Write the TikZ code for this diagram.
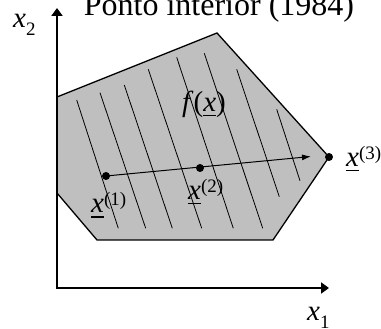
\documentclass[tikz,border=0pt]{standalone}
\usepackage{fontspec}
\setmainfont{Liberation Serif}
\usetikzlibrary{arrows.meta}
\newcommand\ulvar{\setbox0\hbox{\textit{x}}\rlap{\rule[-4.5pt]{\wd0}{1.4pt}}\box0}
\newcommand\supidx[1]{\raisebox{7pt}{\fontsize{19}{20}\selectfont(#1)}}
\newcommand\subidx[1]{\raisebox{-8pt}{\fontsize{19}{20}\selectfont #1}}
\begin{document}
\begin{tikzpicture}[x=1pt,y=-1pt,
  axis/.style={line width=2pt,-{Triangle[length=8pt,width=11pt]}},
  region/.style={fill=black!25,draw=black,line width=1.3pt,line join=miter},
  hatch/.style={line width=0.8pt},
  dot/.style={circle,fill=black,inner sep=0pt,minimum size=8pt},
  lbl/.style={anchor=base west,inner sep=0pt,font=\fontsize{29}{32}\selectfont},
  ttl/.style={anchor=base,inner sep=0pt,font=\fontsize{32}{36}\selectfont},
  move/.style={line width=1pt,-{Latex[length=9pt,width=6pt]}}]
\useasboundingbox (0,0) rectangle (381,329);
% feasible region
\coordinate (r1) at (57,97);
\coordinate (r2) at (217,33);
\coordinate (r3) at (329,157);
\coordinate (r4) at (273,240);
\coordinate (r5) at (97,240);
\coordinate (r6) at (57,193);
\draw[region] (r1) -- (r2) -- (r3) -- (r4) -- (r5) -- (r6) -- cycle;
% level lines
\draw[hatch] (76.7,100) -- (118.3,228.3);
\draw[hatch] (100,92.7) -- (145.7,228.3);
\draw[hatch] (124.3,85) -- (172.3,228.3);
\draw[hatch] (148.3,69.3) -- (201.7,228.3);
\draw[hatch] (176.7,57.3) -- (233.3,228.3);
\draw[hatch] (204.3,53.3) -- (262.7,228.3);
\draw[hatch] (236.7,69.3) -- (279.3,196.7);
\draw[hatch] (276.7,109.3) -- (300,180.7);
% axes
\coordinate (O) at (57,288);
\coordinate (Ytop) at (57,8);
\coordinate (Xend) at (329,288);
\draw[axis] ([yshift=1pt]O) -- (Ytop);
\draw[axis] ([xshift=-1pt]O) -- (Xend);
% points
\node[dot] (p1) at (106,176) {};
\node[dot] (p2) at (200,168) {};
\node[dot] (p3) at (329,157) {};
\coordinate (aend) at (311,156.5);
\draw[move] (p1.center) -- (aend);
% labels
\node[ttl] (title) at (219,16) {Ponto interior (1984)};
\node[lbl] (lx2) at (13,28) {\textit{x}\subidx{2}};
\node[lbl] (lx1) at (307,320) {\textit{x}\subidx{1}};
\node[lbl] (lf) at (182,112) {\textit{f}(\ulvar)};
\node[lbl] (l1) at (91,213) {\ulvar\supidx{1}};
\node[lbl] (l2) at (188,200) {\ulvar\supidx{2}};
\node[lbl] (l3) at (346,167) {\ulvar\supidx{3}};
\end{tikzpicture}
\end{document}
